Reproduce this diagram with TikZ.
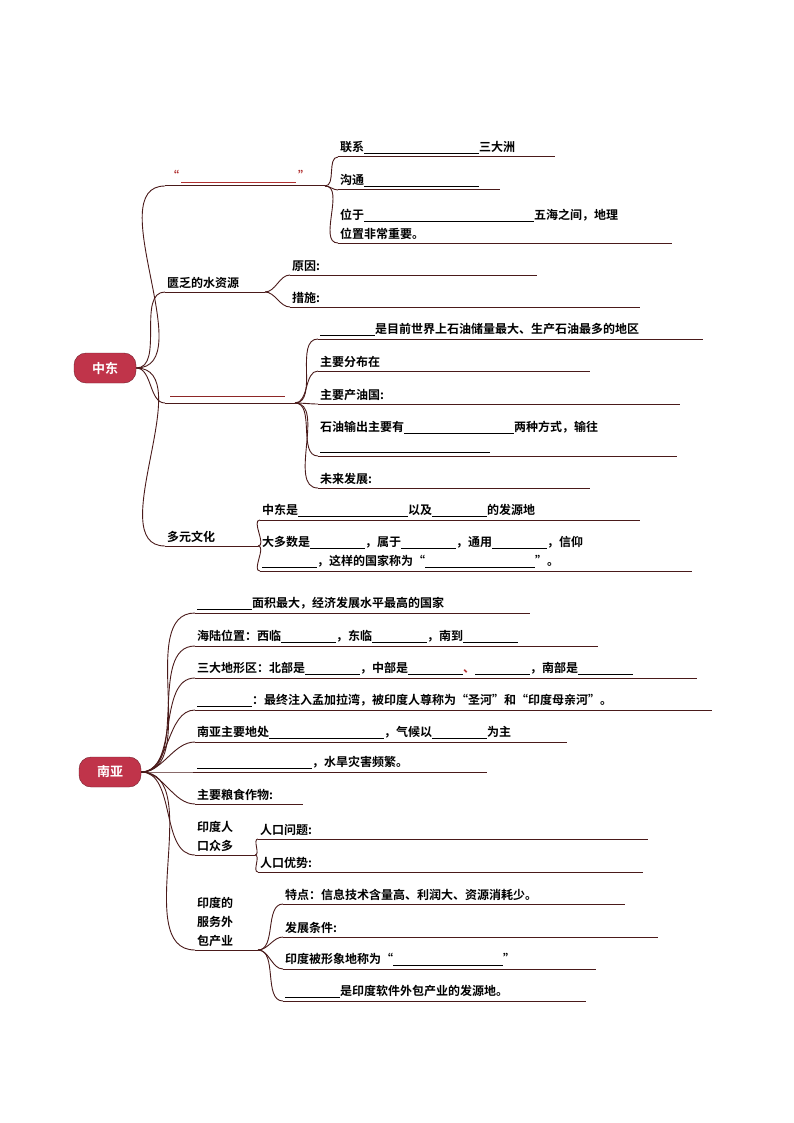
\documentclass[tikz,border=0pt]{standalone}
\usepackage{fontspec}
\setmainfont{Noto Sans CJK SC}[BoldFont={Noto Sans CJK SC Bold}]
\usetikzlibrary{calc}
\definecolor{ln}{HTML}{4A1A1A}
\definecolor{rt}{HTML}{C0344A}
\definecolor{rq}{HTML}{B03030}
\newcommand{\bl}[1]{\underline{\hspace{#1pt}}}
\newcommand{\leaf}[5]{%
  \coordinate (#1-s) at (#2,#4); \coordinate (#1-e) at (#3,#4);
  \draw[ul] (#1-s) -- (#1-e);
  \node[tx] (#1-t) at ($(#1-s)+(1,-2)$) {#5};}
\begin{document}
\begin{tikzpicture}[x=1pt,y=-1pt,
  ul/.style={ln,line width=1pt},
  br/.style={ln,line width=0.9pt,out=0,in=180,looseness=0.9},
  tx/.style={anchor=south west,inner sep=1pt,font=\bfseries\fontsize{12}{19}\selectfont,align=left},
  root/.style={fill=rt,draw=rt!60!black,rounded corners=12pt,minimum width=62pt,minimum height=30pt,text=white,font=\bfseries\fontsize{13}{15}\selectfont}]
\useasboundingbox (0,0) rectangle (794,1123);
% ---------- 中东 ----------
\node[root] (zd) at (105,368) {中东};
\leaf{a}{165}{325}{186}{\textcolor{rq}{“\,\bl{115}\,”}}
\leaf{a1}{338}{555}{157}{联系\bl{115}三大洲}
\leaf{a2}{338}{500}{190}{沟通\bl{115}}
\leaf{a3}{338}{672}{243}{位于\bl{170}五海之间，地理\\位置非常重要。}
\leaf{b}{165}{265}{292}{匮乏的水资源}
\leaf{b1}{290}{537}{275}{原因:}
\leaf{b2}{290}{640}{307}{措施:}
\coordinate (c-s) at (165,403); \coordinate (c-e) at (295,403);
\draw[ul] (c-s) -- (c-e);
\draw[rq!80!black,line width=1pt] (170,396) -- (285,396);
\leaf{c1}{318}{703}{339}{\bl{55}是目前世界上石油储量最大、生产石油最多的地区}
\leaf{c2}{318}{590}{371}{主要分布在}
\leaf{c3}{318}{680}{404}{主要产油国:}
\leaf{c4}{318}{677}{456}{石油输出主要有\bl{110}两种方式，输往\\\bl{170}}
\leaf{c5}{318}{590}{488}{未来发展:}
\leaf{d}{165}{258}{546}{多元文化}
\leaf{d1}{260}{640}{520}{中东是\bl{110}以及\bl{55}的发源地}
\leaf{d2}{260}{692}{571}{大多数是\bl{55}，属于\bl{55}，通用\bl{55}，信仰\\\bl{55}，这样的国家称为“\bl{110}”。}
\foreach \n in {a,b,c,d} \draw[br] (zd.east) to (\n-s);
\foreach \n in {a1,a2,a3} \draw[br] (a-e) to (\n-s);
\foreach \n in {b1,b2} \draw[br] (b-e) to (\n-s);
\foreach \n in {c1,c2,c3,c4,c5} \draw[br] (c-e) to (\n-s);
\foreach \n in {d1,d2} \draw[br] (d-e) to (\n-s);
% ---------- 南亚 ----------
\node[root] (ny) at (110,772) {南亚};
\leaf{e1}{195}{530}{613}{\bl{55}面积最大，经济发展水平最高的国家}
\leaf{e2}{195}{598}{646}{海陆位置：西临\bl{55}，东临\bl{55}，南到\bl{55}}
\leaf{e3}{195}{697}{678}{三大地形区：北部是\bl{55}，中部是\bl{55}\textcolor{rq}{、}\bl{55}，南部是\bl{55}}
\leaf{e4}{195}{712}{710}{\bl{55}：最终注入孟加拉湾，被印度人尊称为“圣河”和“印度母亲河”。}
\leaf{e5}{195}{567}{742}{南亚主要地处\bl{115}，气候以\bl{55}为主}
\leaf{e6}{195}{487}{772}{\bl{115}，水旱灾害频繁。}
\leaf{e7}{195}{303}{804}{主要粮食作物:}
\leaf{f}{195}{255}{855}{印度人\\口众多}
\leaf{f1}{258}{648}{839}{人口问题:}
\leaf{f2}{258}{643}{872}{人口优势:}
\leaf{g}{195}{258}{950}{印度的\\服务外\\包产业}
\leaf{g1}{283}{625}{904}{特点：信息技术含量高、利润大、资源消耗少。}
\leaf{g2}{283}{658}{937}{发展条件:}
\leaf{g3}{283}{596}{969}{印度被形象地称为“\bl{110}”}
\leaf{g4}{283}{586}{1001}{\bl{55}是印度软件外包产业的发源地。}
\foreach \n in {e1,e2,e3,e4,e5,e6,e7,f,g} \draw[br] (ny.east) to (\n-s);
\foreach \n in {f1,f2} \draw[br] (f-e) to (\n-s);
\foreach \n in {g1,g2,g3,g4} \draw[br] (g-e) to (\n-s);
\end{tikzpicture}
\end{document}
